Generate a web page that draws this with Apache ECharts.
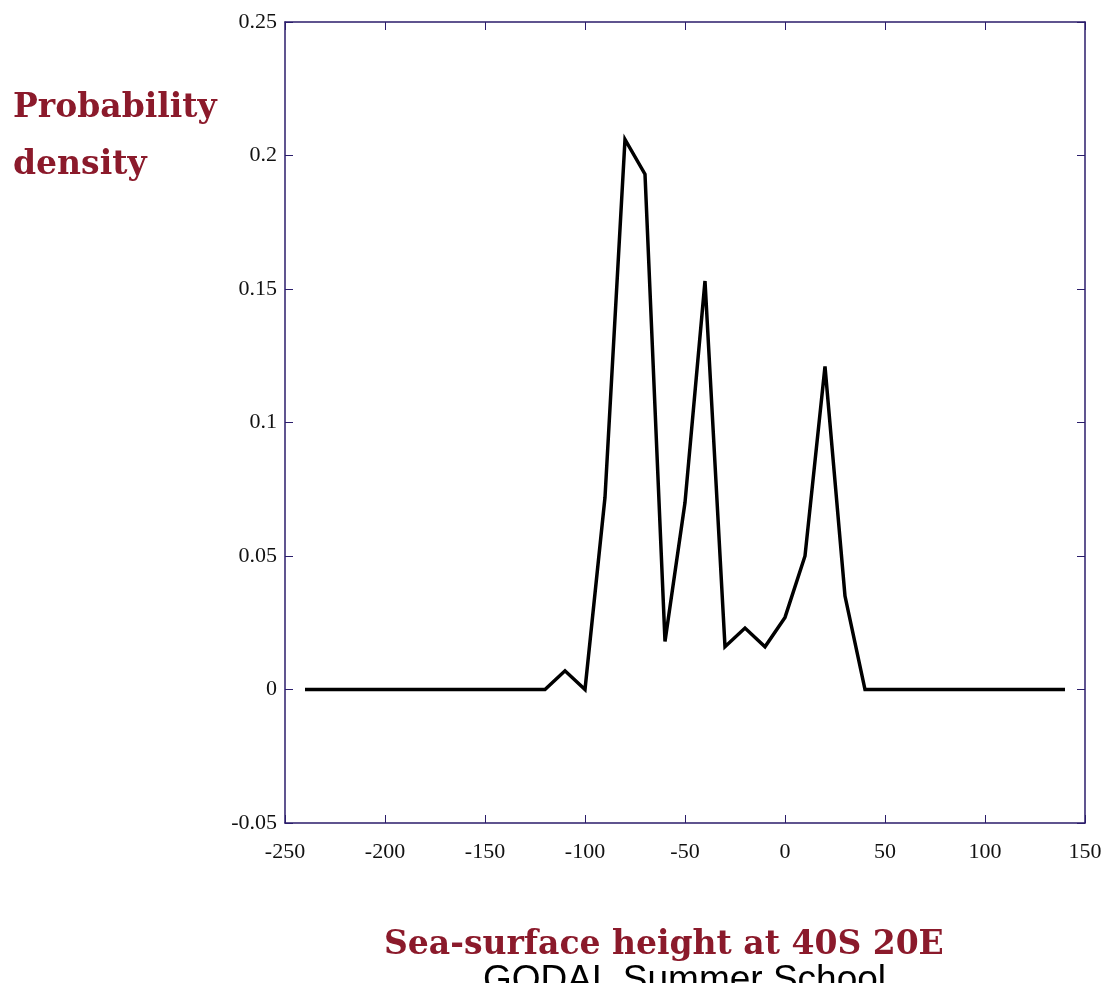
<!DOCTYPE html>
<html>
<head>
<meta charset="utf-8">
<title>Probability density</title>
<script src="https://cdn.jsdelivr.net/npm/echarts@6/dist/echarts.min.js"></script>
<style>
html, body { margin: 0; padding: 0; background: #fff; }
#main { width: 1117px; height: 983px; }
</style>
</head>
<body>
<div id="main"></div>
<script>
// sea-surface height (x) and probability density (y)
var heights = [-240, -230, -220, -210, -200, -190, -180, -170, -160, -150, -140, -130, -120,
  -110, -100, -90, -80, -70, -60, -50, -40, -30, -20, -10, 0, 10, 20, 30, 40,
  50, 60, 70, 80, 90, 100, 110, 120, 130, 140];
var density = [0, 0, 0, 0, 0, 0, 0, 0, 0, 0, 0, 0, 0,
  0.007, 0, 0.072, 0.206, 0.193, 0.018, 0.07, 0.153, 0.016, 0.023, 0.016, 0.027, 0.05, 0.121, 0.035, 0,
  0, 0, 0, 0, 0, 0, 0, 0, 0, 0];

var yTitle = ['Probability', 'density'];
var xTitle = 'Sea-surface height at 40S 20E';
var footer = 'GODAL Summer School';

var axisColor = '#2b1d6b';
var titleColor = '#8b1a2b';
var titleFont = '"DejaVu Serif", "Liberation Serif", serif';

var points = [];
for (var i = 0; i < heights.length; i++) {
  points.push([heights[i], density[i]]);
}

// box axes: top/right copies only carry the line and inner ticks
function boxAxis(pos, min, max, step) {
  return {
    type: 'value', min: min, max: max, interval: step, position: pos,
    axisLine: { show: true, onZero: false, lineStyle: { color: axisColor, width: 1.5 } },
    axisTick: { show: true, inside: true, length: 8, lineStyle: { color: axisColor } },
    axisLabel: { show: false },
    splitLine: { show: false }
  };
}

var xBottom = boxAxis('bottom', -250, 150, 50);
xBottom.axisLabel = { show: true, color: '#111', fontSize: 22, fontFamily: '"Liberation Serif", serif', margin: 18 };
var yLeft = boxAxis('left', -0.05, 0.25, 0.05);
yLeft.axisLabel = { show: true, color: '#111', fontSize: 22, fontFamily: '"Liberation Serif", serif', margin: 8 };

var myChart = echarts.init(document.getElementById('main'));
myChart.setOption({
  animation: false,
  backgroundColor: '#fff',
  grid: { left: 285, right: 32, top: 22, bottom: 160 },
  graphic: [
    {
      type: 'text', left: 483, top: 962, z: 1,
      style: { text: footer, font: '37px "Liberation Sans", Arial, sans-serif', fill: '#000' }
    },
    {
      type: 'text', left: 384, top: 929, z: 10,
      style: { text: xTitle, font: 'bold 33px ' + titleFont, fill: titleColor }
    },
    {
      type: 'text', left: 13, top: 80, z: 10,
      style: { text: yTitle.join('\n'), font: 'bold 33px ' + titleFont, fill: titleColor, lineHeight: 57 }
    }
  ],
  xAxis: [xBottom, boxAxis('top', -250, 150, 50)],
  yAxis: [yLeft, boxAxis('right', -0.05, 0.25, 0.05)],
  series: [
    {
      type: 'line',
      data: points,
      showSymbol: false,
      lineStyle: { color: '#000', width: 3.5, join: 'miter' }
    }
  ]
});
</script>
</body>
</html>
